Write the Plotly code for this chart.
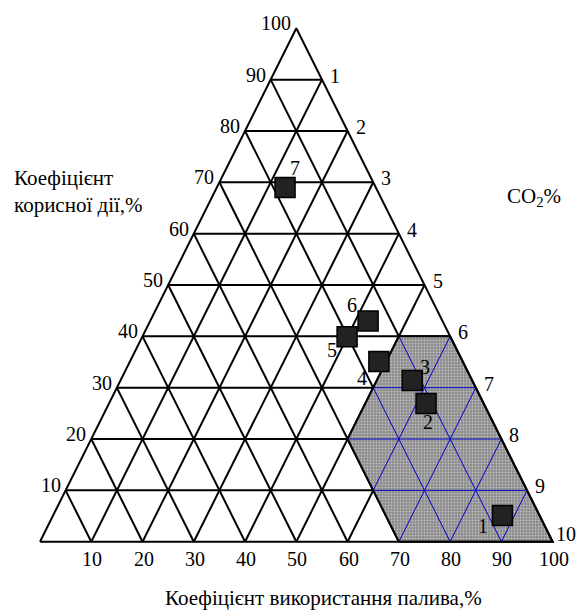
import plotly.graph_objects as go

# ---------------- data ----------------
base_ticks = [10, 20, 30, 40, 50, 60, 70, 80, 90, 100]          # Коефіцієнт використання палива,%
eff_ticks = [10, 20, 30, 40, 50, 60, 70, 80, 90, 100]           # Коефіцієнт корисної дії,%
co2_ticks = [1, 2, 3, 4, 5, 6, 7, 8, 9, 10]                      # CO2 %
co2_levels = [90, 80, 70, 60, 50, 40, 30, 20, 10, 0]             # level of each CO2 tick

point_labels = ["1", "2", "3", "4", "5", "6", "7"]
point_x = [90.2, 75.3, 72.6, 66.1, 59.9, 64.0, 47.8]
point_y = [5.1, 26.9, 31.4, 35.1, 39.9, 43.0, 69.0]

zone_x = [70, 100, 80, 70, 60]
zone_y = [0, 0, 40, 40, 20]

# ---------------- styling ----------------
FONT = "Liberation Serif, Times New Roman, Times, serif"
FS = 20
FS_TITLE = 21
label_shift = {"1": (-19, -10), "2": (2, -18), "3": (13, 14), "4": (-17, -16),
               "5": (-15, -13), "6": (-16, 16), "7": (10, 19)}

# ---------------- grid geometry ----------------
grid_segments = []
for L in eff_ticks[:-1]:
    grid_segments.append(((L / 2, L), (100 - L / 2, L)))
for b in base_ticks[:-1]:
    grid_segments.append(((b, 0), (50 + b / 2, 100 - b)))
    grid_segments.append(((b, 0), (b / 2, b)))


def clip(p0, p1, poly):
    t0, t1 = 0.0, 1.0
    dx, dy = p1[0] - p0[0], p1[1] - p0[1]
    n = len(poly)
    for i in range(n):
        ax, ay = poly[i]
        bx, by = poly[(i + 1) % n]
        nx, ny = -(by - ay), (bx - ax)
        num = nx * (p0[0] - ax) + ny * (p0[1] - ay)
        den = nx * dx + ny * dy
        if abs(den) < 1e-12:
            if num < 0:
                return None
            continue
        t = -num / den
        if den > 0:
            t0 = max(t0, t)
        else:
            t1 = min(t1, t)
    if t1 - t0 < 1e-9:
        return None
    return ((p0[0] + t0 * dx, p0[1] + t0 * dy), (p0[0] + t1 * dx, p0[1] + t1 * dy))


def seg_xy(segs):
    xs, ys = [], []
    for (a, b) in segs:
        xs += [a[0], b[0], None]
        ys += [a[1], b[1], None]
    return xs, ys


zone_poly = list(zip(zone_x, zone_y))
blue_segments = [s for s in (clip(a, b, zone_poly) for a, b in grid_segments) if s]

fig = go.Figure()

gx, gy = seg_xy(grid_segments)
fig.add_trace(go.Scatter(x=gx, y=gy, mode="lines", line=dict(color="black", width=2),
                         hoverinfo="skip", showlegend=False))

fig.add_trace(go.Scatter(x=zone_x + [zone_x[0]], y=zone_y + [zone_y[0]], mode="lines",
                         fill="toself", fillcolor="#9a9a9a",
                         fillpattern=dict(shape=".", bgcolor="#8a8a8a", fgcolor="#f0f0f0",
                                          size=3, solidity=0.35),
                         line=dict(width=0), hoverinfo="skip", showlegend=False))

bx, by = seg_xy(blue_segments)
fig.add_trace(go.Scatter(x=bx, y=by, mode="lines", line=dict(color="#0000cc", width=1),
                         hoverinfo="skip", showlegend=False))

fig.add_trace(go.Scatter(x=zone_x + [zone_x[0]], y=zone_y + [zone_y[0]], mode="lines",
                         line=dict(color="black", width=2), hoverinfo="skip", showlegend=False))

fig.add_trace(go.Scatter(x=[0, 100, 50, 0], y=[0, 0, 100, 0], mode="lines",
                         line=dict(color="black", width=2), hoverinfo="skip", showlegend=False))

fig.add_trace(go.Scatter(x=point_x, y=point_y, mode="markers",
                         marker=dict(symbol="square", size=20, color="#222222",
                                     line=dict(color="black", width=1.5)),
                         hoverinfo="skip", showlegend=False))

ann = []
tf = dict(family=FONT, size=FS, color="black")
ttf = dict(family=FONT, size=FS_TITLE, color="black")
for v in base_ticks:
    ann.append(dict(x=v, y=0, text=str(v), showarrow=False, xanchor="center", yanchor="middle",
                    xshift=1, yshift=-17, font=tf))
for v in eff_ticks:
    ann.append(dict(x=v / 2, y=v, text=str(v), showarrow=False, xanchor="right", yanchor="middle",
                    xshift=-3, yshift=5, font=tf))
for k, L in zip(co2_ticks, co2_levels):
    ann.append(dict(x=100 - L / 2, y=L, text=str(k), showarrow=False, xanchor="left", yanchor="middle",
                    xshift=(1 if L == 0 else 6), yshift=(8 if L == 0 else 4), font=tf))
for lab, px, py in zip(point_labels, point_x, point_y):
    dx, dy = label_shift[lab]
    ann.append(dict(x=px, y=py, text=lab, showarrow=False, xanchor="center", yanchor="middle",
                    xshift=dx, yshift=dy, font=tf))

ann.append(dict(x=-5.5, y=68.2, text="Коефіцієнт<br>корисної дії,%", showarrow=False,
                xanchor="left", yanchor="middle", align="left", font=ttf))
ann.append(dict(x=90.7, y=67.1, text="CO<sub>2</sub>%", showarrow=False,
                xanchor="left", yanchor="middle", font=ttf))
ann.append(dict(x=55.3, y=-11.0, text="Коефіцієнт використання палива,%", showarrow=False,
                xanchor="center", yanchor="middle", font=ttf))

fig.update_layout(
    width=576, height=610,
    margin=dict(l=0, r=0, t=0, b=0),
    paper_bgcolor="white", plot_bgcolor="white",
    font=dict(family=FONT, size=FS, color="black"),
    xaxis=dict(range=[-7.80, 104.55], visible=False, fixedrange=True),
    yaxis=dict(range=[-13.30, 105.51], visible=False, fixedrange=True),
    annotations=ann,
    showlegend=False,
)

fig.write_html("out.html", config={"displayModeBar": False},
               post_script="document.body.style.margin='0';document.body.style.padding='0';")
